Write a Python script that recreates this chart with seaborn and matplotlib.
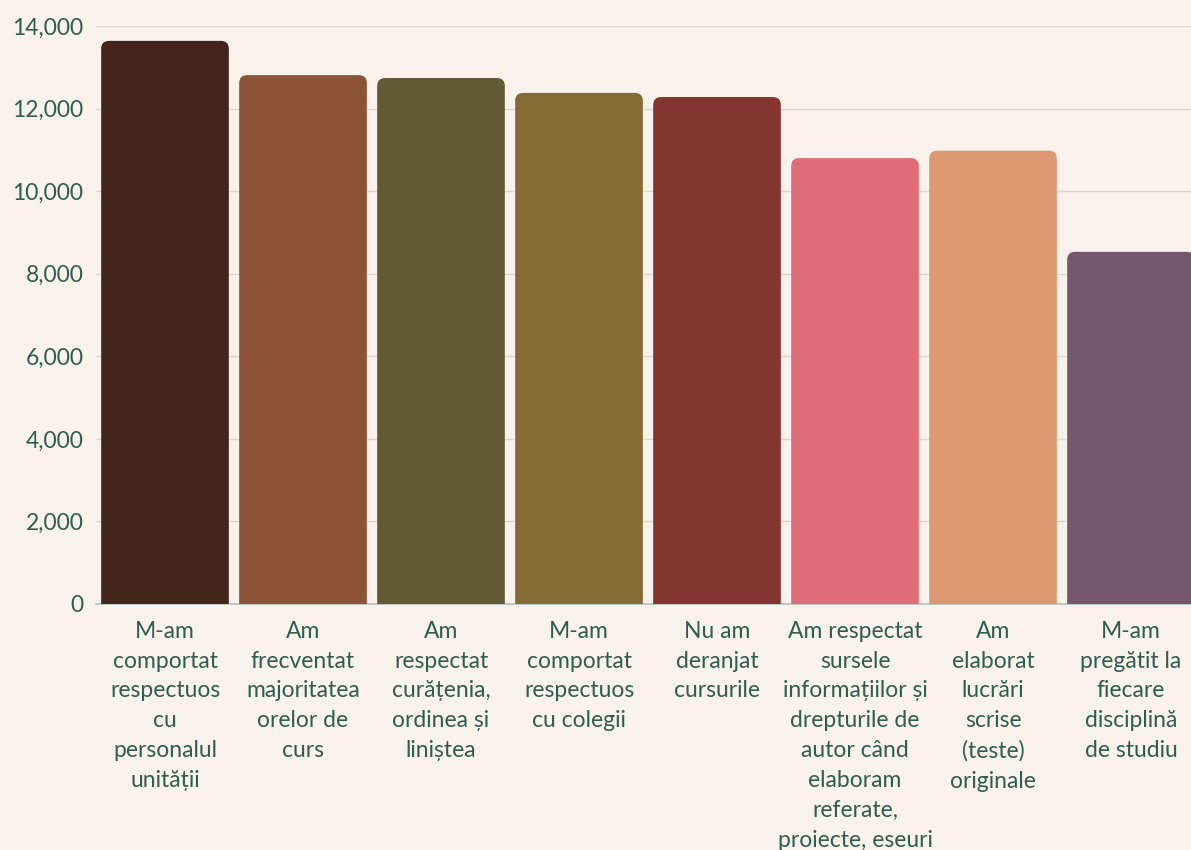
import matplotlib
matplotlib.use("Agg")
import matplotlib.pyplot as plt
from matplotlib.patches import FancyBboxPatch
import pandas as pd
import seaborn as sns

# data
categories = [
    "M-am\ncomportat\nrespectuos\ncu\npersonalul\nunității",
    "Am\nfrecventat\nmajoritatea\norelor de\ncurs",
    "Am\nrespectat\ncurățenia,\nordinea și\nliniștea",
    "M-am\ncomportat\nrespectuos\ncu colegii",
    "Nu am\nderanjat\ncursurile",
    "Am respectat\nsursele\ninformațiilor și\ndrepturile de\nautor când\nelaboram\nreferate,\nproiecte, eseuri",
    "Am\nelaborat\nlucrări\nscrise\n(teste)\noriginale",
    "M-am\npregătit la\nfiecare\ndisciplină\nde studiu",
]
values = [13640, 12810, 12740, 12380, 12280, 10800, 10980, 8530]
colors = ["#43241a", "#8c5336", "#625a35", "#846b36",
          "#843530", "#e06c78", "#dc9870", "#75566d"]
yticks = [0, 2000, 4000, 6000, 8000, 10000, 12000, 14000]

bg = "#f9f1ec"
txt = "#2f5d4f"

sns.set_theme(style="white")
plt.rcParams["font.family"] = ["Lato", "DejaVu Sans"]

df = pd.DataFrame({"cat": categories, "val": values})

fig = plt.figure(figsize=(11.91, 8.5), dpi=100, facecolor=bg)
ax = fig.add_axes([96 / 1191, 246 / 850, 1104 / 1191, 578 / 850])
ax.set_facecolor(bg)

sns.barplot(data=df, x="cat", y="val", hue="cat", palette=colors,
            saturation=1, legend=False, width=0.925, ax=ax, zorder=3)

# swap plain bars for ones with rounded tops
rx = 8 / 138
ry = 8 * 14000 / 578
for p in list(ax.patches):
    x, w, h = p.get_x(), p.get_width(), p.get_height()
    fb = FancyBboxPatch((x, -ry * 2), w, h + ry * 2,
                        boxstyle=f"round,pad=0,rounding_size={rx}",
                        mutation_aspect=ry / rx, facecolor=p.get_facecolor(),
                        edgecolor="none", zorder=3)
    ax.add_patch(fb)
    p.remove()

ax.set_ylim(0, 14000)
ax.set_xlim(-0.5, 7.5)
ax.set_yticks(yticks)
ax.set_yticklabels([f"{v:,}" for v in yticks])
ax.yaxis.grid(True, color="#d6d6d1", linewidth=1, zorder=0)
ax.tick_params(axis="y", length=0, pad=9, labelsize=16.5, labelcolor=txt)
ax.tick_params(axis="x", length=0, pad=12, labelsize=16.5, labelcolor=txt)
for lab in ax.get_xticklabels():
    lab.set_linespacing(1.52)
for s in ["top", "right", "left"]:
    ax.spines[s].set_visible(False)
ax.spines["bottom"].set_color("#b5c2ba")
ax.set_xlabel("")
ax.set_ylabel("")

fig.savefig("out.png", dpi=100, facecolor=bg)
